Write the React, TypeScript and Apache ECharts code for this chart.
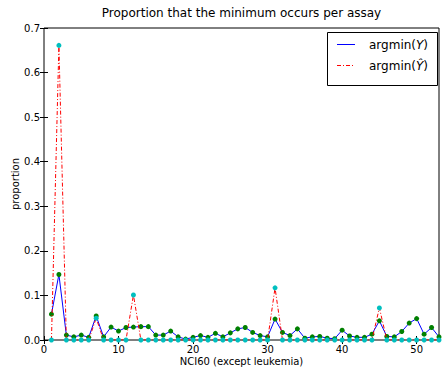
import React, { useEffect, useRef } from "react";
import * as echarts from "echarts";

// Proportion of runs in which each assay (1..53) holds the minimum
const argminY = [
  0.058, 0.147, 0.011, 0.007, 0.011, 0.006, 0.054, 0.007, 0.029, 0.02,
  0.028, 0.029, 0.03, 0.03, 0.011, 0.011, 0.02, 0.007, 0.002, 0.006,
  0.01, 0.006, 0.015, 0.007, 0.016, 0.025, 0.028, 0.017, 0.01, 0.007,
  0.047, 0.017, 0.01, 0.025, 0.004, 0.007, 0.008, 0.004, 0.003, 0.022,
  0.009, 0.006, 0.006, 0.013, 0.043, 0.008, 0.007, 0.019, 0.038, 0.048,
  0.013, 0.028, 0.007,
];
const argminYHat = [
  0, 0.661, 0, 0, 0, 0, 0.049, 0, 0, 0,
  0, 0.101, 0, 0, 0, 0, 0, 0, 0, 0,
  0, 0, 0, 0, 0, 0, 0, 0, 0, 0,
  0.117, 0, 0, 0, 0, 0, 0, 0, 0, 0,
  0, 0, 0, 0, 0.072, 0, 0, 0, 0, 0,
  0, 0, 0,
];
const xTicks = [0, 10, 20, 30, 40, 50];
const yTicks = [0, 0.1, 0.2, 0.3, 0.4, 0.5, 0.6, 0.7];

const FONT = "DejaVu Sans";
const GL = 44, GR = 3, GT = 28, GB = 27;
const DASH_DOT = [4, 2, 1, 2];

export default function App() {
  const ref = useRef<HTMLDivElement>(null);
  useEffect(() => {
    if (!ref.current) return;
    const chart = echarts.init(ref.current, null, { renderer: "svg" });
    const tickCommon = {
      axisLine: { show: false },
      splitLine: { show: false },
    };
    chart.setOption({
      animation: false,
      backgroundColor: "#ffffff",
      grid: {
        left: GL, right: GR, top: GT, bottom: GB,
        outerBoundsMode: "none",
        containLabel: false,
        show: true, borderColor: "#000", borderWidth: 1, backgroundColor: "transparent",
      },
      xAxis: [
        {
          type: "value", min: 0, max: 53, interval: 10,
          ...tickCommon,
          axisTick: { show: true, inside: true, length: 4, lineStyle: { color: "#000" }, customValues: xTicks },
          axisLabel: { color: "#000", fontFamily: FONT, fontSize: 10, margin: 4, customValues: xTicks },
          name: "NCI60 (except leukemia)",
          nameLocation: "middle", nameGap: 16, nameMoveOverlap: false,
          nameTextStyle: { color: "#000", fontFamily: FONT, fontSize: 10 },
        },
        {
          type: "value", min: 0, max: 53, interval: 10, position: "top",
          ...tickCommon,
          axisTick: { show: true, inside: true, length: 4, lineStyle: { color: "#000" }, customValues: xTicks },
          axisLabel: { show: false },
        },
      ],
      yAxis: [
        {
          type: "value", min: 0, max: 0.7, interval: 0.1,
          ...tickCommon,
          axisTick: { show: true, inside: true, length: 4, lineStyle: { color: "#000" }, customValues: yTicks },
          axisLabel: {
            color: "#000", fontFamily: FONT, fontSize: 10, margin: 4,
            customValues: yTicks, formatter: (v: number) => v.toFixed(1),
          },
          name: "proportion",
          nameLocation: "middle", nameGap: 24, nameRotate: 90, nameMoveOverlap: false,
          nameTextStyle: { color: "#000", fontFamily: FONT, fontSize: 10 },
        },
        {
          type: "value", min: 0, max: 0.7, interval: 0.1, position: "right",
          ...tickCommon,
          axisTick: { show: true, inside: true, length: 4, lineStyle: { color: "#000" }, customValues: yTicks },
          axisLabel: { show: false },
        },
      ],
      series: [
        {
          name: "argmin(Y)",
          type: "line",
          data: argminY.map((v, i) => [i + 1, v]),
          symbol: "circle", symbolSize: 5, showSymbol: true,
          lineStyle: { color: "#0000ff", width: 1 },
          itemStyle: { color: "#008000", borderWidth: 0 },
          z: 2,
        },
        {
          name: "argmin(Ŷ)",
          type: "line",
          data: argminYHat.map((v, i) => [i + 1, v]),
          symbol: "circle", symbolSize: 5, showSymbol: true,
          lineStyle: { color: "#ff0000", width: 1, type: DASH_DOT },
          itemStyle: { color: "#00bfbf", borderWidth: 0 },
          z: 3,
        },
      ],
      graphic: [
        {
          type: "text",
          x: 241.5, y: 7,
          style: {
            text: "Proportion that the minimum occurs per assay",
            fontFamily: FONT, fontSize: 12, fill: "#000", textAlign: "center",
          },
        },
        {
          type: "group",
          children: [
            {
              type: "rect",
              shape: { x: 327.5, y: 32.5, width: 110, height: 53 },
              style: { fill: "#fff", stroke: "#000", lineWidth: 1 },
              z: 10,
            },
            {
              type: "line",
              shape: { x1: 337, y1: 44.5, x2: 355, y2: 44.5 },
              style: { stroke: "#0000ff", lineWidth: 1 },
              z: 11,
            },
            {
              type: "line",
              shape: { x1: 337, y1: 65.5, x2: 355, y2: 65.5 },
              style: { stroke: "#ff0000", lineWidth: 1, lineDash: DASH_DOT },
              z: 11,
            },
            {
              type: "text",
              x: 369, y: 44.5,
              style: {
                text: "argmin({i|Y})",
                rich: { i: { fontStyle: "italic", fontFamily: FONT, fontSize: 12, fill: "#000" } },
                fontFamily: FONT, fontSize: 12, fill: "#000", verticalAlign: "middle",
              },
              z: 11,
            },
            {
              type: "text",
              x: 369, y: 65.5,
              style: {
                text: "argmin({i|Ŷ})",
                rich: { i: { fontStyle: "italic", fontFamily: FONT, fontSize: 12, fill: "#000" } },
                fontFamily: FONT, fontSize: 12, fill: "#000", verticalAlign: "middle",
              },
              z: 11,
            },
          ],
        },
      ],
    });
    return () => chart.dispose();
  }, []);
  return (
    <div
      ref={ref}
      style={{ position: "fixed", left: 0, top: 0, width: 442, height: 367 }}
    />
  );
}
